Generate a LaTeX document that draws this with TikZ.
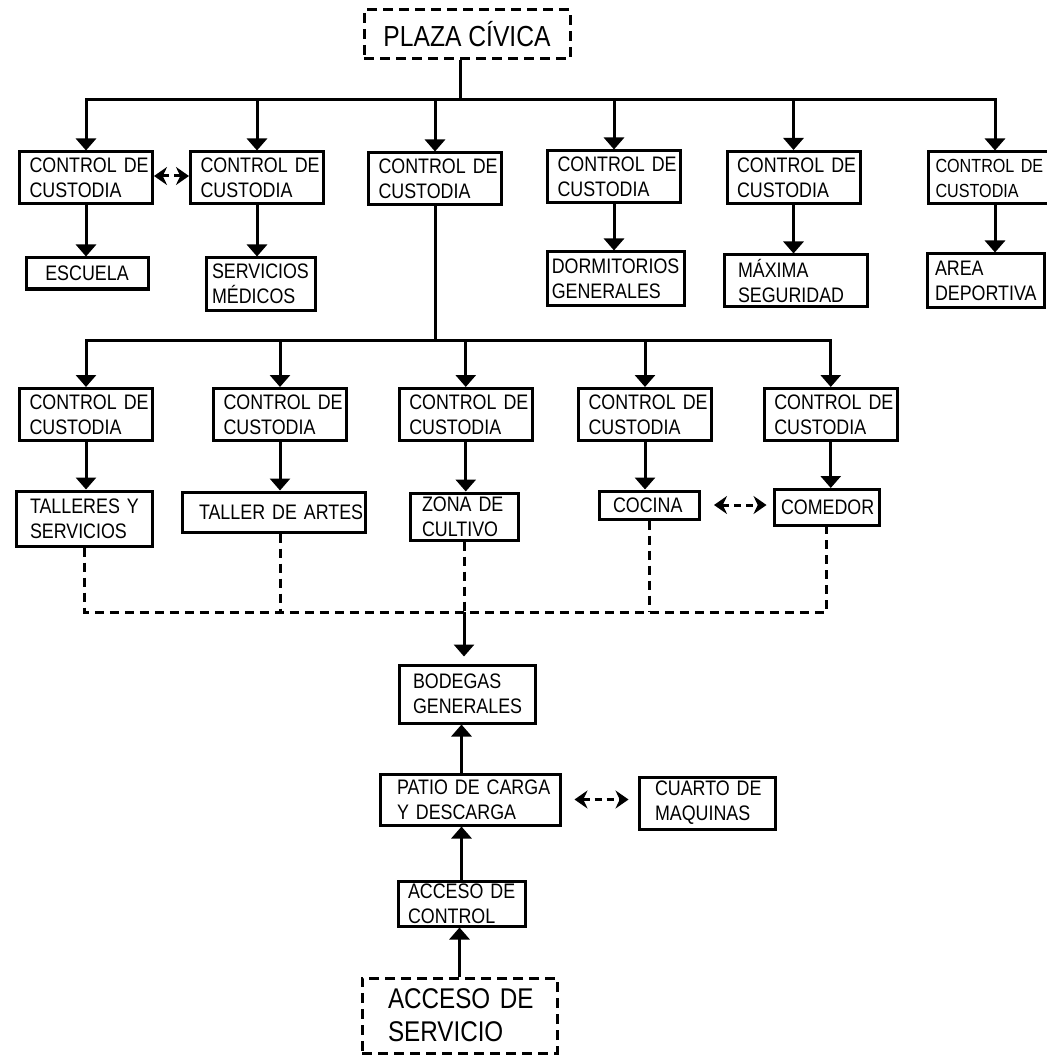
\documentclass[tikz,border=0pt]{standalone}
\usepackage{fontspec}
\setmainfont{Liberation Sans}[FakeStretch=0.85]
\usetikzlibrary{arrows.meta}
\begin{document}
\begin{tikzpicture}[x=1pt,y=-1pt,
  arr/.style={line width=3pt, -{Triangle[length=12pt,width=20pt]}},
  darr/.style={line width=3pt, dash pattern=on 7pt off 5pt, {Stealth[length=13pt,width=18pt]}-{Stealth[length=13pt,width=18pt]}},
  dsh/.style={line width=3pt, dash pattern=on 9pt off 6pt},
  bx/.style={draw, line width=3pt, inner ysep=0pt, align=left, font=\fontsize{21}{25}\selectfont},
  dbx/.style={draw, line width=3pt, dash pattern=on 10pt off 6pt, inner ysep=0pt, align=left},
  ctl/.style={bx, minimum width=133pt, minimum height=52pt, inner xsep=10pt, text width=113pt},
]
\fill[white] (0,0) rectangle (1046,1056);
\useasboundingbox (0,0) rectangle (1046,1056);

% top
\node[dbx, align=center, minimum width=206pt, minimum height=49pt, font=\fontsize{29}{33}\selectfont] (plaza) at (467,34.5) {PLAZA~CÍVICA};

% row 1 controls
\node[ctl] (b1) at (86,178) {CONTROL~DE\\CUSTODIA};
\node[ctl] (b2) at (257,178) {CONTROL~DE\\CUSTODIA};
\node[ctl] (b3) at (435,179) {CONTROL~DE\\CUSTODIA};
\node[ctl] (b4) at (614,177) {CONTROL~DE\\CUSTODIA};
\node[ctl] (b5) at (793.5,177.5) {CONTROL~DE\\CUSTODIA};
\node[ctl, inner xsep=7pt, text width=119pt, font=\fontsize{19}{25}\selectfont] (b6) at (995,178) {CONTROL~DE\\CUSTODIA};

% row 1 children
\node[bx, align=center, minimum width=122pt, minimum height=31pt] (escuela) at (87,273.5) {ESCUELA};
\node[bx, minimum width=109pt, minimum height=52pt, inner xsep=6pt, text width=97pt] (medicos) at (260.5,284) {SERVICIOS\\MÉDICOS};
\node[bx, minimum width=136.5pt, minimum height=53pt, inner xsep=4pt, text width=128.5pt] (dormit) at (616,278.5) {DORMITORIOS\\GENERALES};
\node[bx, minimum width=143pt, minimum height=51pt, inner xsep=14pt, text width=115pt] (maxima) at (795.5,280.5) {MÁXIMA\\SEGURIDAD};
\node[bx, minimum width=117pt, minimum height=53pt, inner xsep=8pt, text width=101pt] (area) at (985.5,280.5) {AREA\\DEPORTIVA};

% row 2 controls
\node[ctl] (c1) at (86,414.5) {CONTROL~DE\\CUSTODIA};
\node[ctl] (c2) at (280,414.5) {CONTROL~DE\\CUSTODIA};
\node[ctl] (c3) at (465.75,414.5) {CONTROL~DE\\CUSTODIA};
\node[ctl] (c4) at (645,414.5) {CONTROL~DE\\CUSTODIA};
\node[ctl] (c5) at (830.75,414.5) {CONTROL~DE\\CUSTODIA};

% row 2 children
\node[bx, minimum width=136.5pt, minimum height=55pt, inner xsep=14pt, text width=108.5pt] (talleres) at (84.25,518.5) {TALLERES~Y\\SERVICIOS};
\node[bx, minimum width=183pt, minimum height=40pt, inner xsep=17pt, text width=149pt] (artes) at (273.5,512) {TALLER~DE~ARTES};
\node[bx, minimum width=108pt, minimum height=47pt, inner xsep=12pt, text width=84pt] (zona) at (464,516.5) {ZONA~DE\\CULTIVO};
\node[bx, minimum width=100.5pt, minimum height=28pt, inner xsep=14pt, text width=72.5pt] (cocina) at (649.25,505) {COCINA};
\node[bx, minimum width=105pt, minimum height=35.5pt, inner xsep=7pt, text width=91pt] (comedor) at (826.5,507.25) {COMEDOR};

% bottom chain
\node[bx, minimum width=136pt, minimum height=58pt, inner xsep=14pt, text width=108pt] (bodegas) at (467,694) {BODEGAS\\GENERALES};
\node[bx, minimum width=180pt, minimum height=51pt, inner xsep=17pt, text width=146pt] (patio) at (470,799.5) {PATIO~DE~CARGA\\Y~DESCARGA};
\node[bx, minimum width=136pt, minimum height=52pt, inner xsep=16pt, text width=104pt] (cuarto) at (707,803) {CUARTO~DE\\MAQUINAS};
\node[bx, minimum width=127pt, minimum height=45pt, inner xsep=10pt, text width=107pt] (control) at (461.5,903.5) {ACCESO~DE\\CONTROL};
\node[dbx, minimum width=195pt, minimum height=75pt, inner xsep=26pt, text width=143pt, font=\fontsize{28.5}{33}\selectfont] (servicio) at (459.5,1015.5) {ACCESO~DE\\SERVICIO};

% bus coordinates
\coordinate (busA) at (0,100);
\coordinate (busB) at (0,340);
\coordinate (busC) at (0,612);

% plaza to row 1
\foreach \n in {b1,b2,b3,b4,b5,b6}
  \draw[arr] ([xshift=-7pt]plaza.south) |- (\n.north |- busA) -- (\n.north);

% row 1 to children
\draw[arr] (b1.south) -- (b1.south |- escuela.north);
\draw[arr] (b2.south) -- (b2.south |- medicos.north);
\draw[arr] (b4.south) -- (b4.south |- dormit.north);
\draw[arr] (b5.south) -- (b5.south |- maxima.north);
\draw[arr] (b6.south) -- (b6.south |- area.north);
\draw[darr] ([yshift=2pt]b1.east) -- ([yshift=2pt]b2.west);

% b3 to row 2
\foreach \n in {c1,c2,c3,c4,c5}
  \draw[arr] (b3.south) |- (\n.north |- busB) -- (\n.north);

% row 2 to children
\draw[arr] (c1.south) -- (c1.south |- talleres.north);
\draw[arr] (c2.south) -- (c2.south |- artes.north);
\draw[arr] (c3.south) -- (c3.south |- zona.north);
\draw[arr] (c4.south) -- (c4.south |- cocina.north);
\draw[arr] (c5.south) -- (c5.south |- comedor.north);
\draw[darr, shorten <=13pt, shorten >=6pt] (cocina.east) -- (cocina.east -| comedor.west);

% dashed collector
\draw[dsh] (talleres.south) |- (comedor.south |- busC) -- (comedor.south);
\draw[dsh] (c2.south |- artes.south) -- (c2.south |- busC);
\draw[dsh] (zona.south) -- (zona.south |- busC);
\draw[dsh] (cocina.south) -- (cocina.south |- busC);
\draw[arr, shorten >=7pt] (zona.south |- busC) -- (zona.south |- bodegas.north);

% bottom chain
\draw[arr] (control.north |- patio.north) -- (control.north |- bodegas.south);
\draw[arr] (control.north) -- (control.north |- patio.south);
\draw[arr] (servicio.north) -- (servicio.north |- control.south);
\draw[darr, shorten <=13pt, shorten >=9pt] (patio.east) -- (patio.east -| cuarto.west);
\end{tikzpicture}
\end{document}
